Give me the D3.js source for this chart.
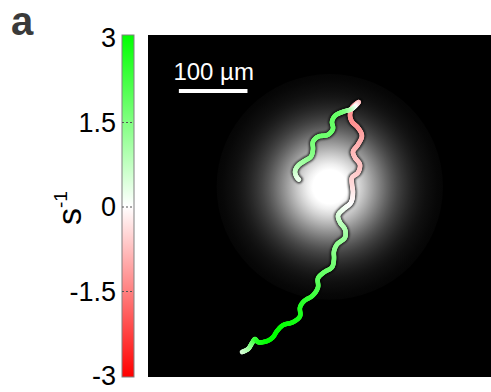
<!DOCTYPE html>
<html>
<head>
<meta charset="utf-8">
<script src="https://cdn.jsdelivr.net/npm/d3@7"></script>
<style>
  body { margin: 0; background: #fff; }
  text { font-family: "Liberation Sans", Arial, sans-serif; }
</style>
</head>
<body>
<div class="container"></div>
<script>
// trajectory in µm (field of view 500 x 500 µm), bottom start -> end
let trackX = [137.0, 145.8, 151.6, 156.0, 160.3, 173.5, 182.2, 188.0, 196.8, 211.4,
  221.6, 221.6, 227.4, 240.5, 247.8, 247.8, 256.6, 268.2, 271.1, 271.1,
  275.5, 287.2, 287.2, 279.9, 277.0, 284.3, 295.9, 298.8, 297.4, 297.4,
  306.1, 309.0, 301.7, 298.8, 306.1, 311.9, 306.1, 297.4, 294.5, 297.4,
  307.6, 297.4, 284.3, 272.6, 268.2, 269.7, 262.4, 247.8, 240.5, 240.5,
  237.6, 228.9, 218.7, 214.3, 217.2, 220.1];
let trackY = [463.5, 459.2, 450.4, 444.6, 449.0, 447.5, 441.7, 432.9, 424.2, 419.8,
  411.1, 398.0, 389.2, 380.5, 368.8, 355.7, 346.9, 339.6, 328.0, 316.3,
  306.1, 295.9, 284.3, 274.0, 263.8, 255.1, 244.9, 230.3, 218.7, 208.5,
  201.2, 189.5, 179.3, 170.6, 160.3, 147.2, 135.6, 126.8, 118.1, 106.4,
  97.7, 107.9, 112.2, 118.1, 126.8, 137.0, 145.8, 148.7, 156.0, 167.6,
  177.8, 183.7, 191.0, 199.7, 208.5, 211.4];
// rate along the track, s^-1
let trackRate = [0.4, 0.9, 1.6, 2.2, 2.6, 2.9, 3.0, 3.0, 2.9, 2.8,
  2.7, 2.6, 2.5, 2.3, 2.1, 1.9, 1.8, 1.7, 1.6, 1.4,
  1.3, 1.2, 1.0, 0.8, 0.5, 0.2, 0.0, -0.2, -0.4, -0.5,
  -0.6, -0.7, -0.7, -0.8, -0.9, -1.0, -1.2, -1.3, -1.3, -1.2,
  -0.9, 0.4, 1.5, 1.8, 1.8, 1.8, 1.7, 1.7, 1.6, 1.5,
  1.4, 1.2, 1.0, 0.7, 0.4, 0.2];

let colorTicks = [3, 1.5, 0, -1.5, -3];
let colorTickLabels = ['3', '1.5', '0', '-1.5', '-3'];

// light spot (µm)
let spotCenter = [265, 222];
let spotRadius = 165;
let spotSigma = 58;

let svg = d3
  .select('.container')
  .append('svg')
  .attr('width', 491)
  .attr('height', 392);

let defs = svg.append('defs');

let color = d3
  .scaleLinear()
  .domain([-3, 0, 3])
  .range(['#ff0000', '#ffffff', '#00ff00']);

// panel letter
svg
  .append('text')
  .attr('x', 11)
  .attr('y', 35)
  .style('font-size', '40px')
  .style('font-weight', 'bold')
  .style('fill', '#3a3a3a')
  .text('a');

// ---- colour bar ----
let cbY = d3.scaleLinear().domain([-3, 3]).range([376, 38]);

let grad = defs
  .append('linearGradient')
  .attr('id', 'cbGrad')
  .attr('x1', 0).attr('y1', 1).attr('x2', 0).attr('y2', 0);
d3.range(-3, 3.01, 0.5).forEach((v) => {
  grad.append('stop')
    .attr('offset', (v + 3) / 6)
    .attr('stop-color', color(v));
});

svg
  .append('rect')
  .attr('x', 122)
  .attr('y', 35)
  .attr('width', 12)
  .attr('height', 342)
  .attr('fill', 'url(#cbGrad)')
  .attr('stroke', '#808080')
  .attr('stroke-width', 1);

svg
  .selectAll('.cbtick')
  .data(colorTicks.filter((d) => Math.abs(d) < 3))
  .enter()
  .append('line')
  .attr('class', 'cbtick')
  .attr('x1', 122)
  .attr('x2', 134)
  .attr('y1', (d) => cbY(d))
  .attr('y2', (d) => cbY(d))
  .attr('stroke', '#555')
  .attr('stroke-dasharray', '2,2');

let cbAxis = d3
  .axisLeft(cbY)
  .tickValues(colorTicks)
  .tickSize(0)
  .tickPadding(6)
  .tickFormat((d, i) => colorTickLabels[i]);

let cbG = svg.append('g').attr('transform', 'translate(118,0)').call(cbAxis);
cbG.select('.domain').remove();
cbG.selectAll('text')
  .style('font-size', '27px')
  .style('font-family', '"Liberation Sans", Arial, sans-serif')
  .attr('fill', '#000')
  .attr('x', -2);

let ylab = svg
  .append('text')
  .attr('transform', 'translate(81,208) rotate(-90)')
  .attr('text-anchor', 'middle')
  .style('font-size', '34px');
ylab.append('tspan').text('s');
ylab.append('tspan')
  .attr('dy', -14)
  .style('font-size', '19px')
  .text('-1');

// ---- image panel ----
let x = d3.scaleLinear().domain([0, 500]).range([148, 491]);
let y = d3.scaleLinear().domain([0, 500]).range([35, 377]);

svg
  .append('rect')
  .attr('x', x(0))
  .attr('y', y(0))
  .attr('width', x(500) - x(0))
  .attr('height', y(500) - y(0))
  .attr('fill', '#000');

let spot = defs
  .append('radialGradient')
  .attr('id', 'spot');
d3.range(0, 1.001, 0.05).forEach((t) => {
  let r = t * spotRadius;
  let b = Math.min(1, 1.1 * Math.exp(-(r * r) / (2 * spotSigma * spotSigma)));
  let g = Math.round(b * 255);
  spot.append('stop')
    .attr('offset', t)
    .attr('stop-color', d3.rgb(g, g, g));
});

svg
  .append('ellipse')
  .attr('cx', x(spotCenter[0]))
  .attr('cy', y(spotCenter[1]))
  .attr('rx', x(spotRadius) - x(0))
  .attr('ry', y(spotRadius) - y(0))
  .attr('fill', 'url(#spot)');

// scale bar
svg
  .append('text')
  .attr('x', x(37))
  .attr('y', 80)
  .style('font-size', '24px')
  .style('fill', '#fff')
  .text('100 µm');
svg
  .append('rect')
  .attr('x', x(45))
  .attr('y', 89)
  .attr('width', x(145) - x(45))
  .attr('height', 4)
  .attr('fill', '#fff');

// ---- trajectory ----
let pts = trackX.map((d, i) => [x(d), y(trackY[i])]);
let line = d3.line().curve(d3.curveCatmullRom.alpha(0.5));

let blur = defs.append('filter').attr('id', 'soft');
blur.append('feGaussianBlur').attr('stdDeviation', 0.9);

let base = svg
  .append('path')
  .attr('d', line(pts))
  .attr('fill', 'none')
  .attr('stroke', '#000')
  .attr('stroke-opacity', 0.75)
  .attr('stroke-width', 7.5)
  .attr('stroke-linecap', 'round')
  .attr('stroke-linejoin', 'round')
  .attr('filter', 'url(#soft)');

// cumulative chord length at each data point
let cum = [0];
for (let i = 1; i < pts.length; i++) {
  cum.push(cum[i - 1] + Math.hypot(pts[i][0] - pts[i - 1][0], pts[i][1] - pts[i - 1][1]));
}
let total = cum[cum.length - 1];
let rateAt = d3.scaleLinear().domain(cum.map((c) => c / total)).range(trackRate);

let node = base.node();
let L = node.getTotalLength();
let step = 1;
let segs = [];
for (let s = 0; s < L; s += step) {
  let p0 = node.getPointAtLength(s);
  let p1 = node.getPointAtLength(Math.min(L, s + step));
  segs.push({ p0: p0, p1: p1, v: rateAt((s + step / 2) / L) });
}

svg
  .append('g')
  .selectAll('line')
  .data(segs)
  .enter()
  .append('line')
  .attr('x1', (d) => d.p0.x)
  .attr('y1', (d) => d.p0.y)
  .attr('x2', (d) => d.p1.x)
  .attr('y2', (d) => d.p1.y)
  .attr('stroke', (d) => color(d.v))
  .attr('stroke-width', 4.6)
  .attr('stroke-linecap', 'round');
</script>
</body>
</html>
